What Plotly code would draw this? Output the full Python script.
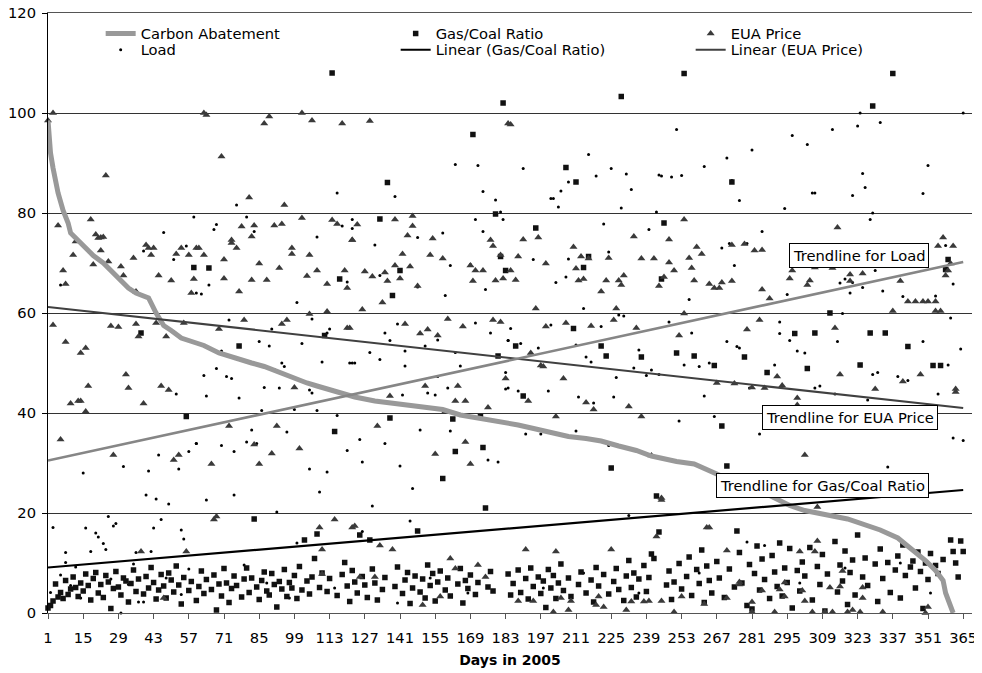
import plotly.graph_objects as go

# ---------------- data ----------------
days = list(range(1, 366))

gas_coal = [
    1.0, 1.5, 2.4, 5.8, 3.2, 4.1, 2.9, 6.5, 3.7, 4.8, 7.2, 5.1, 3.3, 6.0,
    4.4, 7.8, 5.5, 2.6, 6.9, 8.1, 4.0, 5.7, 3.1, 7.5, 6.2, 0.9, 4.9, 8.3,
    5.2, 3.6, 7.0, 6.4, 2.2, 5.9, 8.6, 4.3, 6.8, 56.0, 3.8, 7.3, 5.0, 9.1,
    6.1, 2.8, 4.6, 7.7, 5.4, 3.0, 8.0, 6.6, 4.2, 9.4, 5.6, 1.8, 7.1, 39.3,
    4.5, 6.3, 69.1, 2.5, 5.3, 8.4, 3.9, 6.7, 69.0, 4.7, 7.6, 0.6, 5.8, 3.4,
    8.9, 6.0, 2.1, 4.9, 7.4, 5.5, 53.4, 3.2, 6.8, 9.0, 4.1, 7.0, 18.8, 5.2,
    2.7, 6.5, 8.2, 4.4, 3.6, 7.9, 5.7, 1.2, 6.3, 4.8, 8.7, 3.3, 6.1, 5.0,
    7.5, 2.9, 9.3, 4.6, 14.6, 6.4, 3.8, 7.2, 10.9, 15.8, 5.1, 8.0, 55.5, 4.3,
    6.9, 108.0, 36.3, 3.5, 66.8, 7.7, 10.1, 5.4, 2.3, 8.5, 6.2, 4.0, 15.6, 7.3,
    5.6, 3.1, 14.6, 8.8, 6.0, 2.6, 78.8, 4.7, 7.1, 86.1, 39.0, 63.5, 5.3, 9.2,
    68.5, 3.9, 6.6, 8.1, 1.9, 5.0, 7.4, 16.4, 4.2, 6.8, 3.0, 9.6, 5.5, 7.9,
    2.4, 6.2, 8.4, 26.9, 4.6, 7.0, 3.4, 38.8, 32.3, 5.8, 8.9, 2.0, 6.5, 4.9,
    7.6, 95.7, 3.7, 6.1, 39.3, 33.1, 21.0, 5.2, 8.3, 4.4, 79.8, 51.4, 71.3, 102.0,
    68.5, 7.8, 3.6, 5.9, 53.4, 8.6, 4.1, 43.4, 6.9, 2.8, 9.0, 5.3, 77.0, 7.2,
    3.9, 6.4, 1.1, 8.7, 5.0, 7.5, 2.9, 6.0, 9.8, 4.5, 89.1, 7.0, 3.3, 56.9,
    86.2, 5.7, 8.2, 69.1, 4.0, 71.3, 6.6, 2.2, 9.1, 5.4, 53.4, 7.7, 51.4, 3.8,
    29.0, 6.3, 8.9, 4.7, 103.3, 2.5, 7.4, 10.5, 5.1, 8.0, 3.2, 6.8, 51.2, 9.5,
    4.3, 7.1, 11.8, 10.9, 23.4, 16.2, 66.8, 78.0, 5.6, 8.4, 2.7, 6.2, 52.0, 9.9,
    4.8, 107.9, 7.3, 11.2, 3.5, 51.4, 8.7, 5.9, 12.6, 2.1, 9.4, 6.5, 4.0, 49.5,
    10.3, 7.0, 37.4, 3.1, 29.4, 8.8, 86.2, 5.2, 16.4, 12.1, 6.0, 51.2, 1.5, 9.7,
    0.8, 7.9, 13.4, 4.6, 10.8, 6.7, 48.1, 2.9, 11.5, 8.2, 5.3, 14.0, 3.4, 9.0,
    6.1, 12.9, 1.0, 55.9, 8.5, 4.4, 10.2, 7.4, 48.9, 13.1, 2.6, 56.0, 9.3, 5.7,
    11.7, 0.4, 7.8, 60.0, 70.4, 14.3, 4.2, 9.6, 6.4, 12.4, 1.7, 8.1, 10.6, 3.6,
    15.6, 49.6, 7.2, 11.0, 5.5, 56.0, 101.4, 9.8, 2.3, 12.8, 6.9, 56.0, 10.1, 4.1,
    107.9, 8.6, 11.4, 3.0, 13.6, 7.5, 53.3, 9.2, 10.4, 5.0, 12.2, 8.3, 0.9, 10.0,
    6.7, 11.9, 49.5, 9.5, 7.9, 49.5, 10.7, 68.7, 70.7, 14.6, 12.3, 10.0, 7.2, 14.4,
    12.3,
]

eua_points = [
    (1, 98.5), (3, 100), (5, 77.5), (3, 57.6), (6, 34.7), (7, 68.5), (8, 65.8), (8, 54.2),
    (10, 41.9), (11, 71.6), (12, 74.3), (13, 42.4), (14, 42.4), (14, 52), (16, 40.3),
    (16, 53), (17, 45.4), (18, 78.7), (19, 69.7), (20, 75.7), (21, 75), (22, 75.1),
    (23, 75.2), (22, 72.5), (24, 87.5), (25, 70.3), (26, 57.4), (27, 31.6), (29, 57.2),
    (30, 69.3), (31, 67.5), (32, 47.7), (33, 45), (35, 71), (36, 57.8), (36, 64.3),
    (37, 55.3), (39, 41.9), (40, 73.6), (41, 73), (43, 73), (42, 71.6), (44, 58),
    (45, 67.5), (46, 45.4), (48, 55.3), (49, 44.6), (50, 66.5), (51, 30.6), (53, 31.6),
    (52, 71.8), (54, 73), (55, 58), (57, 71.6), (58, 64), (59, 66.8), (60, 73),
    (56, 12.3), (38, 12.3), (47, 3),
    (63, 100), (64, 99.6), (70, 91.3), (81, 83.1), (87, 97.9), (89, 99.3), (95, 81.6),
    (102, 100), (106, 98.5), (118, 97.9),
    (61, 73), (63, 71.6), (71, 70.7), (74, 74), (74, 74.6), (76, 73), (78, 77.3),
    (82, 75.3), (83, 77.5), (85, 69.9), (91, 77.5), (94, 77.8), (98, 73), (98, 71.8),
    (102, 79), (105, 71.6), (108, 68.5), (104, 67.4), (93, 69), (88, 66.6), (82, 66.6),
    (77, 64.3), (71, 66.9), (112, 65.8), (114, 78.6), (116, 77.8), (119, 68.5),
    (120, 65), (122, 74.6),
    (69, 56.8), (79, 58.6), (94, 57.8), (96, 58.6), (105, 59.8), (112, 60.3), (120, 57),
    (99, 45.1), (73, 37.4), (92, 37.4), (83, 33.7), (90, 31.9), (101, 32.9), (66, 29.8),
    (85, 29.8),
    (67, 18.7), (68, 19.3), (115, 18.7), (109, 17.1), (122, 17.1), (110, 12.7), (110, 7.8),
    (129, 98.4), (184, 97.9),
    (124, 77.7), (122, 74.6), (139, 78.7), (146, 77.4), (146, 79.4), (144, 75.5),
    (154, 74.9), (142, 71.8), (153, 71.6), (158, 70.9), (177, 74.6), (178, 73.4),
    (127, 68.3), (130, 67.3), (135, 68.1), (139, 69.5), (145, 69.3), (136, 66.4),
    (141, 66.9), (148, 65.4), (169, 69.5), (171, 68.5), (174, 68.5), (170, 66.4),
    (179, 66.5), (182, 66.9), (181, 71.6),
    (134, 62.1), (126, 60.7),
    (143, 57.8), (149, 55.9), (152, 56.7), (156, 55.5), (160, 58.8), (166, 57.3),
    (178, 58.6), (181, 58.2),
    (121, 57), (183, 46.9), (151, 45.4), (137, 43.4), (164, 45.4), (163, 42.4),
    (167, 42.4), (176, 41.1), (159, 40.3),
    (132, 37.4), (167, 34.2), (155, 31.8), (169, 29.8),
    (123, 17.4), (133, 13.5), (138, 12.7), (161, 10.9), (163, 8.9), (172, 9.6),
    (175, 7.2), (131, 7.2), (125, 7.2), (150, 1.6), (157, 3.3),
    (185, 97.7),
    (190, 74.7), (196, 75.1), (188, 71.3), (199, 69.9), (210, 73.2), (213, 71.3),
    (216, 70.9), (211, 68.9), (212, 66.5), (214, 66.8), (224, 71), (234, 75.3),
    (237, 70.9), (242, 70.9), (230, 67.5), (228, 66.5), (229, 65.6), (223, 66.5),
    (221, 64.3), (244, 65.4), (187, 66.6), (185, 68.5), (195, 60.9), (227, 60.9),
    (199, 57.3), (207, 58), (217, 57.4), (226, 58.6), (235, 57), (193, 52), (197, 49.5),
    (198, 49.3), (206, 46.9), (192, 42.4), (215, 42.1), (218, 40.7), (232, 41.3),
    (203, 39.3), (237, 39.3),
    (241, 31.5), (245, 23),
    (243, 15.3), (191, 12.7), (203, 12.3), (225, 12.7), (188, 2.4), (194, 2.4),
    (202, 0.2), (208, 0.6), (209, 2.4), (205, 3), (219, 1.6), (222, 1.2), (231, 0.6),
    (233, 2.3), (238, 2.3), (240, 2.4), (245, 2.4), (220, 3.3),
    (254, 78.7), (248, 74.7), (259, 73.2), (261, 71.8), (256, 71), (257, 69), (248, 70.1),
    (250, 68.5), (258, 66.5), (264, 65.8), (266, 65), (268, 65), (269, 66.1), (273, 66.4),
    (273, 73.6), (278, 73.8), (282, 72.5), (285, 72.6), (285, 64.7), (288, 62.9),
    (296, 66.9), (297, 68.5), (303, 65.6), (304, 66.5), (246, 67.2), (254, 59.9),
    (252, 55.5), (279, 56.7), (284, 58.6), (291, 47.3), (267, 46), (274, 45.9),
    (281, 45.1), (286, 45), (293, 45.5), (299, 43), (299, 41.6),
    (302, 31.6), (245, 22.6),
    (263, 17.1), (264, 17.1), (271, 12.5), (300, 12.3), (306, 12.3), (276, 6.2),
    (276, 5.7), (253, 3.3), (262, 1.8), (271, 3), (281, 2.2), (281, 0.2), (285, 4.5),
    (292, 4.7), (294, 3.3), (301, 4.5), (305, 0.2), (250, 0.2), (290, 0.2), (302, 2.4),
    (294, 6.1),
    (315, 77.1), (357, 75.1), (355, 73.4), (361, 73.4), (360, 69.9), (359, 68.5),
    (358, 67.5), (313, 69), (329, 69.9), (320, 67.7), (325, 67.9), (320, 66.4),
    (340, 66.4), (343, 62.3), (346, 62.3), (349, 62.3), (351, 62.3), (354, 62.3),
    (354, 60.4), (356, 60.4), (337, 60.4), (306, 69.1),
    (314, 57), (316, 47.7), (330, 44.8), (341, 46.3), (348, 47.7), (362, 44.8), (362, 44.2),
    (307, 21.2), (307, 14.4), (317, 8.4), (312, 5.1), (316, 5.3), (325, 5.1), (325, 3),
    (310, 0.2), (313, 0.2), (319, 0.2), (321, 0.6), (324, 0.2), (333, 0.2), (351, 1.2),
    (350, 0),
]

load_points = [
    (6, 65.6), (47, 76.1), (59, 79.2), (39, 72.4), (51, 70.7), (56, 73.4), (60, 64),
    (52, 43.8), (60, 33.9), (57, 32.3), (45, 31.6), (31, 29.3), (41, 28.4), (15, 28),
    (53, 28.8), (40, 23.6), (44, 22.8), (49, 21.8), (3, 17.1), (16, 17), (18, 12.3),
    (20, 16), (21, 15.2), (23, 13.9), (24, 12.7), (25, 19.3), (27, 17.4), (28, 17.9),
    (36, 12.1), (42, 12.3), (43, 17), (46, 18.7), (54, 16.6), (55, 14.8), (8, 12.1),
    (8, 10.1), (12, 9.2), (6, 7.6), (2, 4.1), (37, 2.2), (39, 2.2), (30, 0), (33, 5.7),
    (57, 8.8), (54, 3.7), (10, 5.5), (14, 3), (26, 6.8), (48, 7), (35, 9.8),
    (116, 84), (76, 81.6), (80, 79.2), (68, 77.7), (67, 76.7), (83, 76.3), (108, 75.2),
    (118, 77.4), (122, 76.9), (65, 65.6), (62, 63.8), (120, 66.2), (100, 62.1),
    (106, 58.8), (112, 56), (113, 56.8), (73, 58.6), (85, 54.3), (89, 53.4), (90, 56.8),
    (102, 53.9), (110, 50.2), (122, 50), (70, 52.4), (68, 48.9), (72, 47.3), (74, 46.9),
    (63, 47.5), (94, 50), (95, 49.3), (91, 48.7), (87, 45.1), (93, 45), (105, 44.6),
    (106, 44), (64, 43.4), (77, 43), (86, 40.5), (99, 40.7), (108, 40.5), (116, 39.5),
    (60, 33.9), (70, 33.5), (75, 32.3), (80, 34.2), (82, 36.6), (84, 33.9), (96, 36.2),
    (120, 32.5), (105, 28.8), (112, 28.2), (75, 23.6), (109, 24.2), (64, 22.6),
    (92, 20.2), (79, 9.6), (100, 14), (88, 6), (97, 3), (115, 5),
    (163, 89.7), (172, 89.5), (174, 84.3), (179, 82.6), (139, 83.3), (181, 80.2),
    (182, 78.7), (171, 78.7), (122, 78.7), (131, 73.6), (148, 75.1), (158, 76),
    (174, 76.3), (161, 69.5), (169, 69.7), (133, 67.5), (148, 65.2), (159, 63.5),
    (175, 64.7), (140, 57.8), (135, 56), (171, 58), (177, 56), (137, 54.5), (156, 54.6),
    (151, 53.4), (143, 52.4), (129, 52.1), (121, 50), (123, 50), (133, 50.7),
    (163, 52.1), (165, 49.4), (143, 49.4), (184, 54.5), (184, 45), (152, 44), (160, 45),
    (142, 43.6), (155, 43.6), (156, 47.3), (137, 41.9), (125, 34.7), (135, 33.9),
    (141, 29.4), (149, 36.6), (161, 36.4), (176, 30.6), (180, 30.2), (146, 24.9),
    (126, 30.2), (130, 21.4), (145, 18.4), (126, 16.3), (153, 7), (168, 4), (140, 2),
    (216, 91.7), (190, 88.9), (205, 84.4), (208, 86.2), (219, 87.4), (225, 88.9),
    (231, 87.8), (233, 84.7), (245, 87.4), (201, 82.9), (202, 82.9), (204, 81.2),
    (229, 81), (243, 80.2), (222, 77.8), (240, 76.7), (194, 70.7), (208, 70.8),
    (224, 72.2), (203, 66.1), (207, 67.2), (214, 60.9), (185, 56.9), (228, 59.6),
    (230, 59.4), (221, 57.3), (201, 57.6), (189, 53.9), (211, 53.6), (196, 53),
    (236, 52.6), (184, 54.5), (183, 48.1), (215, 51.2), (217, 50.2), (241, 48.6),
    (234, 49), (227, 47.1), (239, 47.5), (183, 44.8), (188, 44.4), (200, 44.4),
    (212, 43.2), (226, 43.2), (218, 42), (191, 35.8), (197, 35.8), (211, 36.4),
    (224, 33.5), (232, 19.5), (198, 5), (214, 8), (236, 4),
    (251, 96.7), (297, 95.5), (303, 93.7), (281, 92.6), (271, 91), (262, 89.3),
    (244, 87.6), (249, 87.2), (253, 87.5), (273, 86.5), (305, 84), (276, 82.5),
    (294, 80.9), (285, 76.3), (269, 73), (272, 73.9), (279, 73.9), (274, 69.5),
    (256, 62.7), (295, 63.7), (248, 58.2), (257, 56), (271, 54.3), (275, 53.3),
    (276, 53), (292, 58.2), (292, 55.9), (296, 54.5), (299, 52.4), (302, 52),
    (254, 49.6), (260, 49.3), (264, 50), (290, 49.6), (244, 47.7), (262, 43.4),
    (280, 45), (306, 45), (252, 38.4), (266, 39.3), (284, 35.8), (279, 14.2),
    (286, 13.5), (260, 8), (300, 6),
    (324, 100), (365, 100), (313, 96.7), (323, 97.4), (332, 98.1), (351, 89.5),
    (325, 87.9), (326, 85.1), (321, 83.5), (349, 83.9), (306, 84), (329, 80),
    (328, 78.7), (325, 65.1), (321, 66.1), (318, 66.8), (316, 66), (322, 71.2),
    (320, 64), (333, 64.4), (358, 73.5), (361, 65.8), (354, 63.4), (341, 63.3),
    (330, 68.5), (317, 59.9), (315, 54.3), (360, 59), (364, 52.8), (349, 54.3),
    (308, 45.4), (314, 43.8), (327, 42.6), (329, 47.7), (331, 48.1), (339, 47.3),
    (343, 46.5), (355, 43.8), (359, 49.6), (361, 35), (365, 34.5), (335, 29.2),
    (340, 10), (318, 9), (352, 4),
]

abatement_points = [
    (1, 98.5), (2, 92), (3, 89), (5, 84), (7, 80.5), (9, 78), (10, 76), (12, 75),
    (16, 73), (19, 71.5), (23, 70), (25, 69), (29, 67), (33, 65), (36, 64), (41, 63),
    (44, 60), (47, 57.5), (50, 56.5), (54, 55), (60, 54), (63, 53.5), (69, 52),
    (75, 51), (82, 50), (87, 49.3), (91, 48.5), (95, 47.7), (99, 47), (104, 46),
    (108, 45.4), (112, 44.8), (118, 43.8), (123, 43.2), (131, 42.4), (137, 42),
    (144, 41.5), (151, 41.2), (158, 40.7), (165, 39.6), (171, 39.1), (177, 38.7),
    (183, 38), (188, 37.6), (195, 36.8), (201, 36), (208, 35.3), (215, 34.9),
    (221, 34.4), (228, 33.4), (235, 32.5), (241, 31.4), (246, 30.8), (251, 30.3),
    (258, 29.8), (263, 28.7), (268, 27.5), (275, 26), (284, 24.5), (290, 23),
    (296, 21.5), (302, 20.5), (306, 20), (312, 19.5), (319, 18.8), (325, 17.7),
    (332, 16.6), (339, 15), (345, 12.7), (350, 10.5), (354, 8.5), (357, 6.5),
    (358, 4), (360, 1.5), (361, 0),
]

trend_days = [1, 365]
gas_coal_trend = [9.1, 24.6]
eua_trend = [61.2, 41.0]
load_trend = [30.5, 70.2]

tick_days = list(range(1, 366, 14))
y_ticks = [0, 20, 40, 60, 80, 100, 120]

# ---------------- figure ----------------
FONT = "Verdana, DejaVu Sans, sans-serif"
eua_days = [p[0] for p in eua_points]
eua_price = [p[1] for p in eua_points]
load_days = [p[0] for p in load_points]
load_values = [p[1] for p in load_points]
ab_days = [p[0] for p in abatement_points]
ab_values = [p[1] for p in abatement_points]

fig = go.Figure()

fig.add_trace(go.Scatter(
    x=load_days, y=load_values, mode="markers", name="Load",
    marker=dict(symbol="circle", size=3, color="#000000"),
    legend="legend2", legendrank=1, cliponaxis=False))
fig.add_trace(go.Scatter(
    x=days, y=gas_coal, mode="markers", name="Gas/Coal Ratio",
    marker=dict(symbol="square", size=5.5, color="#111111"),
    legend="legend", legendrank=2, cliponaxis=False))
fig.add_trace(go.Scatter(
    x=eua_days, y=eua_price, mode="markers", name="EUA Price",
    marker=dict(symbol="triangle-up", size=7, color="#3a3a3a"),
    legend="legend", legendrank=3, legendwidth=170, cliponaxis=False))
fig.add_trace(go.Scatter(
    x=ab_days, y=ab_values, mode="lines", name="Carbon Abatement",
    line=dict(color="#999999", width=5),
    legend="legend", legendrank=1))
fig.add_trace(go.Scatter(
    x=trend_days, y=gas_coal_trend, mode="lines", name="Linear (Gas/Coal Ratio)",
    line=dict(color="#000000", width=2.2),
    legend="legend2", legendrank=2))
fig.add_trace(go.Scatter(
    x=trend_days, y=eua_trend, mode="lines", name="Linear (EUA Price)",
    line=dict(color="#404040", width=2.2),
    legend="legend2", legendrank=3, legendwidth=170))
fig.add_trace(go.Scatter(
    x=trend_days, y=load_trend, mode="lines", name="Linear (Load)",
    line=dict(color="#868686", width=2.6), showlegend=False))

leg_common = dict(
    orientation="h", xanchor="left", yanchor="middle",
    bgcolor="rgba(0,0,0,0)", borderwidth=0,
    font=dict(family=FONT, size=14.7, color="#000000"),
    entrywidth=250, entrywidthmode="pixels", traceorder="normal",
)

annot_style = dict(
    showarrow=False, bordercolor="#000000", borderwidth=1, borderpad=3,
    bgcolor="#ffffff", font=dict(family=FONT, size=14.7, color="#000000"),
    xref="x", yref="y",
)

# the page body adds an 8 px offset, so the figure is 8 px smaller than the window
fig.update_layout(
    width=974, height=665,
    margin=dict(l=40, r=10, t=5, b=60),
    paper_bgcolor="#ffffff", plot_bgcolor="#ffffff",
    font=dict(family=FONT, size=14.7, color="#000000"),
    legend=dict(x=0.057, y=0.965, **leg_common),
    legend2=dict(x=0.057, y=0.938, **leg_common),
    xaxis=dict(
        range=[1, 368.5], tickvals=tick_days, showgrid=False, zeroline=False,
        automargin=False, ticklabeloverflow="allow",
        showline=True, linecolor="#555555", linewidth=1.2, mirror=True,
        ticks="outside", ticklen=5, tickcolor="#555555", ticklabelstandoff=6,
        tickfont=dict(family=FONT, size=14.7),
        title=dict(text="<b>Days in 2005</b>", standoff=10,
                   font=dict(family=FONT, size=14)),
    ),
    yaxis=dict(
        range=[0, 120], tickvals=y_ticks, showgrid=True, gridcolor="#333333",
        gridwidth=1, zeroline=False, showline=True, linecolor="#000000",
        automargin=False, ticklabeloverflow="allow",
        linewidth=1, ticks="outside", ticklen=5, tickcolor="#000000",
        ticklabelstandoff=3, tickfont=dict(family=FONT, size=14.7),
    ),
    annotations=[
        dict(x=323.4, y=71.5, text="Trendline for Load", **annot_style),
        dict(x=319.8, y=39.1, text="Trendline for EUA Price", **annot_style),
        dict(x=309.1, y=25.6, text="Trendline for Gas/Coal Ratio", **annot_style),
    ],
)

fig.write_html("out.html")
